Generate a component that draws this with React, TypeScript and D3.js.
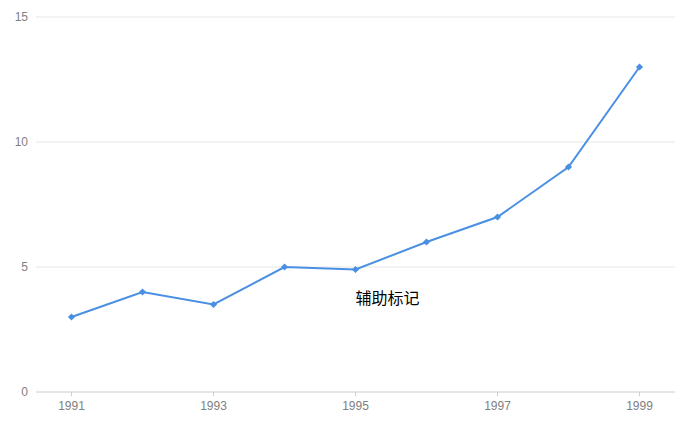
import * as d3 from 'd3'

const years = [1991, 1992, 1993, 1994, 1995, 1996, 1997, 1998, 1999]
const values = [3, 4, 3.5, 5, 4.9, 6, 7, 9, 13]
const xTicks = [1991, 1993, 1995, 1997, 1999]
const yTicks = [0, 5, 10, 15]
const note = { year: 1995, value: 4.9, text: '辅助标记' }

const width = 690
const height = 423
const lineColor = '#4a90e2'
const font = 'Helvetica, "Liberation Sans", Arial, "Noto Sans CJK SC", sans-serif'

export default function App() {
  const x = d3.scaleLinear([1990.5, 1999.5], [36, 675])
  const y = d3.scaleLinear([0, 15], [392, 17])
  const line = d3.line<number>((d, i) => x(years[i]), (d) => y(d))
  // square turned 45 degrees, so the diamond is as wide as it is tall
  const diamond = d3.symbol(d3.symbolSquare, 26)()

  return (
    <svg
      width={width}
      height={height}
      style={{ position: 'absolute', left: 0, top: 0, fontFamily: font }}
    >
      <g>
        {yTicks.map((t) => (
          <g key={t}>
            <line
              x1={x.range()[0]}
              x2={x.range()[1]}
              y1={y(t)}
              y2={y(t)}
              stroke={t === 0 ? '#cccccc' : '#e6e6e6'}
              strokeWidth={1}
            />
            <text
              x={28}
              y={y(t)}
              dy="0.35em"
              textAnchor="end"
              fontSize={12}
              fill="#808080"
            >
              {t}
            </text>
          </g>
        ))}
      </g>
      <g>
        {xTicks.map((t) => (
          <g key={t}>
            <line
              x1={x(t)}
              x2={x(t)}
              y1={y(0)}
              y2={y(0) + 4}
              stroke="#cccccc"
            />
            <text
              x={x(t)}
              y={y(0) + 18}
              textAnchor="middle"
              fontSize={12}
              fill="#808080"
            >
              {t}
            </text>
          </g>
        ))}
      </g>
      <path
        d={line(values) ?? undefined}
        fill="none"
        stroke={lineColor}
        strokeWidth={2}
      />
      <g fill={lineColor}>
        {values.map((d, i) => (
          <path
            key={i}
            d={diamond ?? undefined}
            transform={`translate(${x(years[i])},${y(d)}) rotate(45)`}
          />
        ))}
      </g>
      <text
        x={x(note.year)}
        y={y(note.value) + 34}
        fontSize={16}
        fill="#000000"
      >
        {note.text}
      </text>
    </svg>
  )
}
